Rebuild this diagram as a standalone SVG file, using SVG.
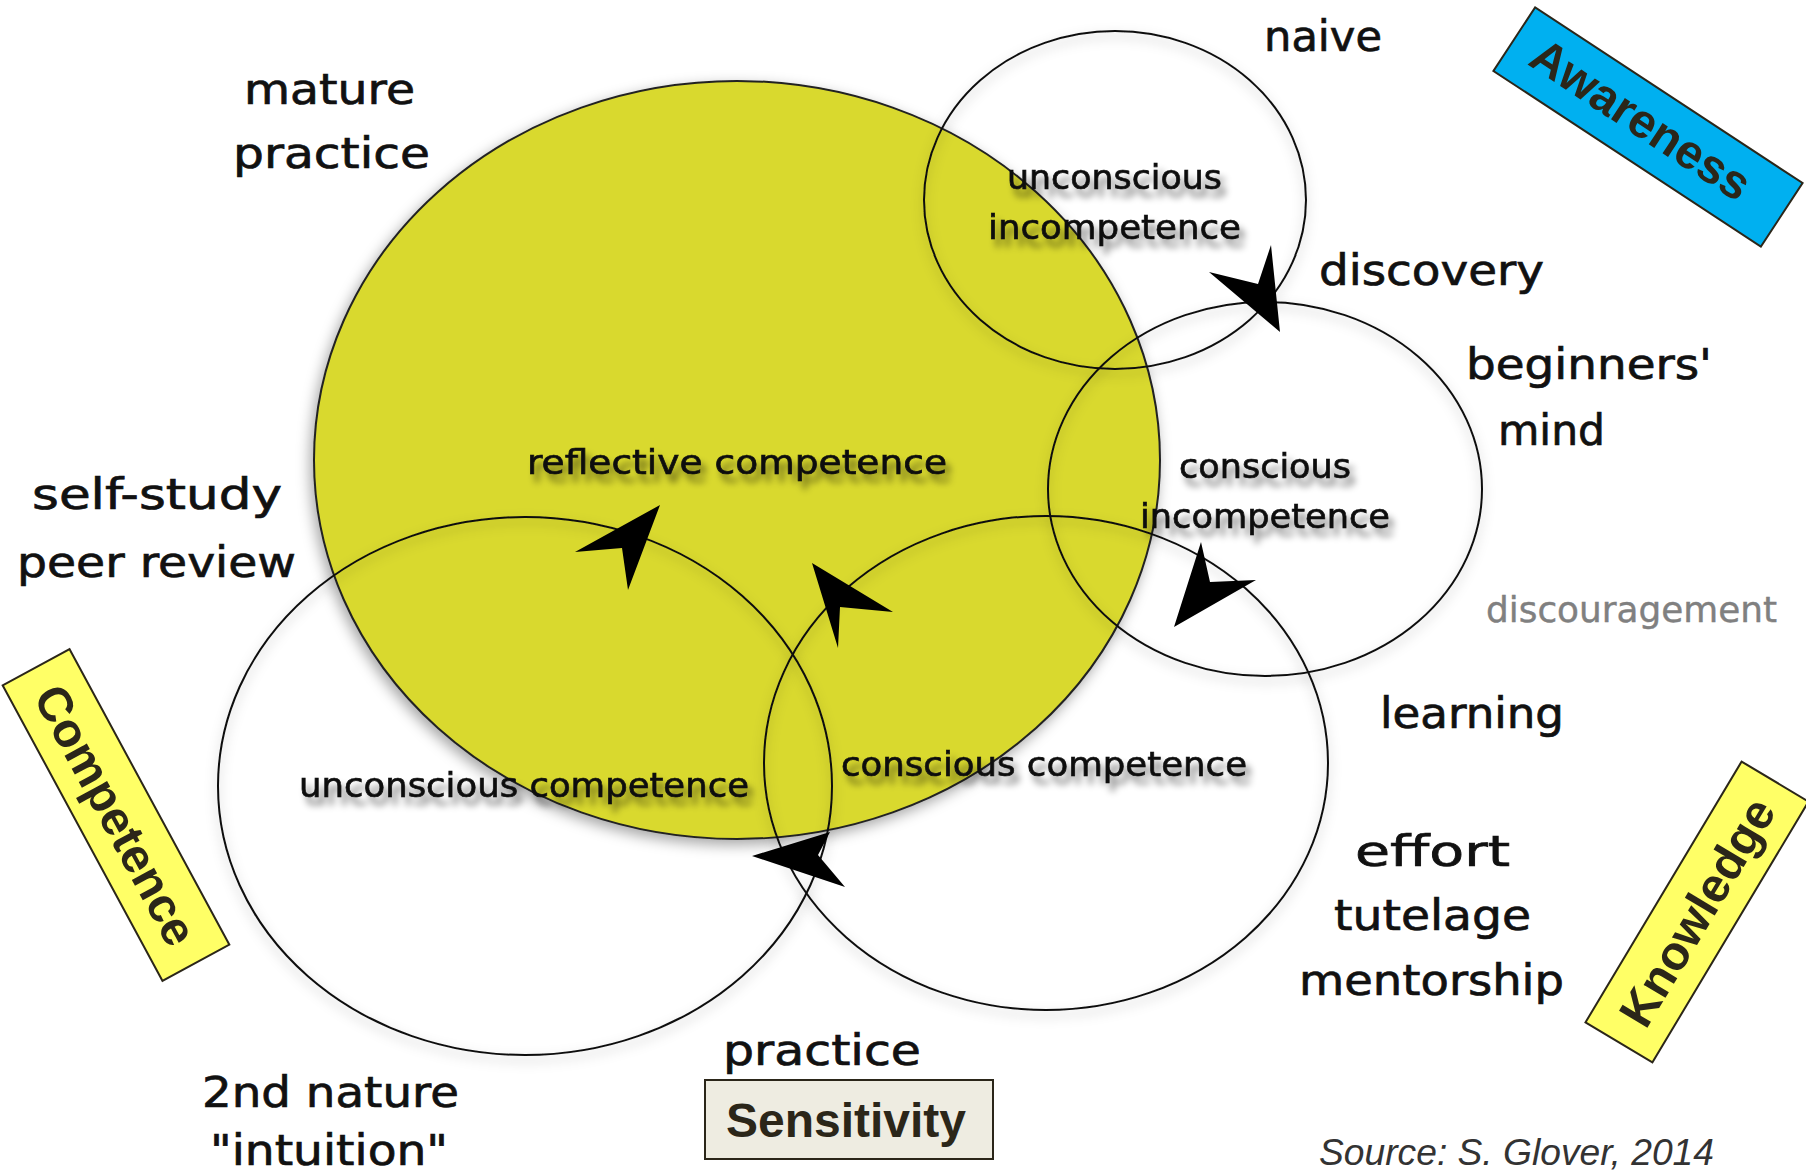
<svg xmlns="http://www.w3.org/2000/svg" width="1806" height="1175" viewBox="0 0 1806 1175">
  <defs>
    <filter id="ringShadow" x="-10%" y="-10%" width="120%" height="125%">
      <feDropShadow dx="0" dy="5" stdDeviation="6" flood-color="#000" flood-opacity="0.3"/>
    </filter>
    <filter id="blobShadow" x="-10%" y="-10%" width="120%" height="125%">
      <feDropShadow dx="-3" dy="5" stdDeviation="7" flood-color="#000" flood-opacity="0.35"/>
    </filter>
    <filter id="textShadow" x="-10%" y="-40%" width="125%" height="190%">
      <feGaussianBlur in="SourceAlpha" stdDeviation="3.5"/>
      <feOffset dx="5" dy="8" result="off"/>
      <feComponentTransfer><feFuncA type="linear" slope="0.5"/></feComponentTransfer>
      <feMerge><feMergeNode/><feMergeNode in="SourceGraphic"/></feMerge>
    </filter>
    <style>
      .ring { fill: none; stroke: #111; stroke-width: 2; filter: url(#ringShadow); }
      .blob { fill: #d9d92e; stroke: #222; stroke-width: 2; filter: url(#blobShadow); }
      .hand { font-family: "DejaVu Sans", sans-serif; fill: #111; stroke: #111; stroke-width: 0.7; }
      .outer { font-size: 42px; }
      .inner { font-size: 34px; filter: url(#textShadow); }
      .faint { font-size: 35px; fill: #808080; stroke: #808080; stroke-width: 0.4; }
      .tag { font-family: "Liberation Sans", Arial, sans-serif; font-weight: bold; font-size: 48px; fill: #2b2619; text-anchor: middle; }
      .tagbox { stroke: #2b2619; stroke-width: 2; }
      .arrow { fill: #000; }
      .source { font-family: "Liberation Sans", Arial, sans-serif; font-style: italic; font-size: 36px; fill: #333; }
    </style>
  </defs>

  <rect width="1806" height="1175" fill="#fff"/>

  <!-- reflective competence: the large filled region -->
  <g id="reflective-competence">
    <ellipse class="blob" cx="737" cy="460" rx="423" ry="379"/>
  </g>

  <!-- stage circles -->
  <g id="unconscious-incompetence">
    <ellipse class="ring" cx="1115" cy="200" rx="191" ry="169"/>
  </g>
  <g id="conscious-incompetence">
    <ellipse class="ring" cx="1265" cy="489" rx="217" ry="187"/>
  </g>
  <g id="conscious-competence">
    <ellipse class="ring" cx="1046" cy="763" rx="282" ry="247"/>
  </g>
  <g id="unconscious-competence">
    <ellipse class="ring" cx="525" cy="786" rx="307" ry="269"/>
  </g>

  <!-- stage names -->
  <g id="stage-labels" class="hand inner">
    <text x="1007" y="189" textLength="215" lengthAdjust="spacingAndGlyphs">unconscious</text>
    <text x="988" y="239" textLength="253" lengthAdjust="spacingAndGlyphs">incompetence</text>
    <text x="1179" y="478" textLength="172" lengthAdjust="spacingAndGlyphs">conscious</text>
    <text x="1140" y="528" textLength="250" lengthAdjust="spacingAndGlyphs">incompetence</text>
    <text x="527" y="474" textLength="420" lengthAdjust="spacingAndGlyphs">reflective competence</text>
    <text x="841" y="776" textLength="406" lengthAdjust="spacingAndGlyphs">conscious competence</text>
    <text x="299" y="797" textLength="450" lengthAdjust="spacingAndGlyphs">unconscious competence</text>
  </g>

  <!-- transitions around the cycle -->
  <g id="connectors" class="arrow">
    <polygon points="1280,332 1209,272 1258,284 1271,245"/>
    <polygon points="1174,627 1201,542 1210,582 1256,580"/>
    <polygon points="752,856 830,832 818,855 845,887"/>
    <polygon points="660,505 575,552 622,548 628,590"/>
    <polygon points="812,563 893,612 840,607 838,648"/>
  </g>

  <!-- descriptive words around the circles -->
  <g id="annotations" class="hand outer">
    <text x="244" y="104" textLength="171" lengthAdjust="spacingAndGlyphs">mature</text>
    <text x="233" y="168" textLength="197" lengthAdjust="spacingAndGlyphs">practice</text>
    <text x="1264" y="51" textLength="118" lengthAdjust="spacingAndGlyphs">naive</text>
    <text x="1319" y="285" textLength="225" lengthAdjust="spacingAndGlyphs">discovery</text>
    <text x="1466" y="379" textLength="246" lengthAdjust="spacingAndGlyphs">beginners'</text>
    <text x="1498" y="445" textLength="107" lengthAdjust="spacingAndGlyphs">mind</text>
    <text x="32" y="509" textLength="250" lengthAdjust="spacingAndGlyphs">self-study</text>
    <text x="17" y="577" textLength="279" lengthAdjust="spacingAndGlyphs">peer review</text>
    <text x="1380" y="728" textLength="184" lengthAdjust="spacingAndGlyphs">learning</text>
    <text x="1355" y="866" textLength="155" lengthAdjust="spacingAndGlyphs">effort</text>
    <text x="1334" y="930" textLength="197" lengthAdjust="spacingAndGlyphs">tutelage</text>
    <text x="1299" y="995" textLength="265" lengthAdjust="spacingAndGlyphs">mentorship</text>
    <text x="723" y="1065" textLength="198" lengthAdjust="spacingAndGlyphs">practice</text>
    <text x="202" y="1107" textLength="257" lengthAdjust="spacingAndGlyphs">2nd nature</text>
    <text x="210" y="1165" textLength="238" lengthAdjust="spacingAndGlyphs">"intuition"</text>
    <text class="faint" x="1486" y="622" textLength="291" lengthAdjust="spacingAndGlyphs">discouragement</text>
  </g>

  <!-- dimension tags -->
  <g id="tag-awareness" transform="translate(1648,127) rotate(33.3)">
    <rect class="tagbox" x="-160" y="-38" width="320" height="76" fill="#00b0f0"/>
    <text class="tag" x="-10" y="14">Awareness</text>
  </g>
  <g id="tag-competence" transform="translate(116,815) rotate(61.6)">
    <rect class="tagbox" x="-168" y="-38" width="336" height="76" fill="#ffff66"/>
    <text class="tag" x="0" y="17">Competence</text>
  </g>
  <g id="tag-knowledge" transform="translate(1697,912) rotate(-59.1)">
    <rect class="tagbox" x="-152" y="-39" width="304" height="78" fill="#ffff66"/>
    <text class="tag" x="0" y="17">Knowledge</text>
  </g>
  <g id="tag-sensitivity">
    <rect class="tagbox" x="705" y="1080" width="288" height="79" fill="#eeece1"/>
    <text class="tag" x="846" y="1137">Sensitivity</text>
  </g>

  <text class="source" x="1319" y="1165" textLength="395" lengthAdjust="spacingAndGlyphs">Source: S. Glover, 2014</text>
</svg>
